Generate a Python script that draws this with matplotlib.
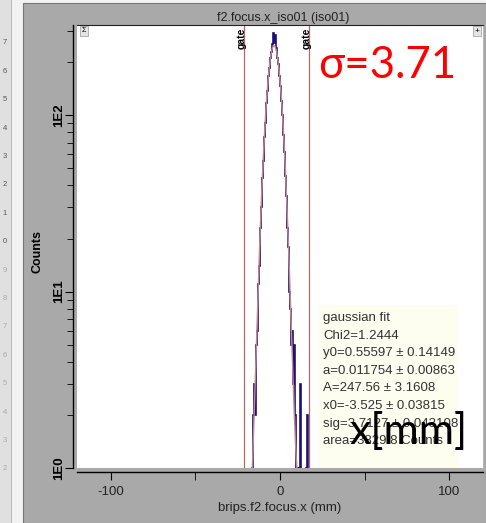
import numpy as np
import matplotlib
matplotlib.use('Agg')
import matplotlib.pyplot as plt
from matplotlib.patches import Rectangle
from matplotlib.transforms import blended_transform_factory

W, H = 486, 523

##  histogram data (bin width 0.6 mm, first bin starts at -17.4 mm)
bin_lo = -17.4
bin_w = 0.6
counts = [0, 1, 2, 3, 2, 5, 6, 11, 14, 23, 30, 44, 55, 75, 91, 118, 137, 166,
          185, 211, 228, 255, 292, 258, 285, 240, 212, 195, 168, 147, 120, 101,
          77, 62, 45, 35, 23, 18, 10, 8, 5, 6, 3, 5, 2, 1, 1, 0, 1, 3, 0, 0, 0,
          0, 0, 1, 2, 0]

##  gaussian fit parameters
fit_y0 = 0.55597
fit_a = 0.011754
fit_A = 247.56
fit_x0 = -3.525
fit_sig = 3.7127

gates = [-21.2, 17.0]

stats_lines = ['gaussian fit',
               'Chi2=1.2444',
               'y0=0.55597 \u00b1 0.14149',
               'a=0.011754 \u00b1 0.00863',
               'A=247.56 \u00b1 3.1608',
               'x0=-3.525 \u00b1 0.03815',
               'sig=3.7127 \u00b1 0.043108',
               'area=3829.8 Counts']

ytick_vals = [1, 10, 100]
ytick_labels = ['1E0', '1E1', '1E2']
xtick_vals = [-100, 0, 100]

plt.rcParams['font.family'] = ['Liberation Sans', 'DejaVu Sans']
plt.rcParams['axes.unicode_minus'] = False

def fx(px):
    return px / W

def fy(py):
    return 1 - py / H

fig = plt.figure(figsize=(W / 100, H / 100), dpi=100)
fig.patch.set_facecolor('#f2f2f2')

# left list strip + gray window panel (behind the axes)
fig.add_artist(Rectangle((0, 0), fx(11), 1, transform=fig.transFigure,
                         color='#e0e0e0', lw=0, zorder=-2))
fig.add_artist(Rectangle((fx(11), 0), fx(1), 1, transform=fig.transFigure,
                         color='#b8b8b8', lw=0, zorder=-2))
fig.add_artist(Rectangle((fx(23), 0), 1 - fx(23), fy(3), transform=fig.transFigure,
                         facecolor='#a9a9a9', edgecolor='#777777', lw=0.8, zorder=-2))
for i, d in enumerate(['7', '6', '5', '4', '3', '2', '1', '0']):
    fig.text(fx(5), fy(43 + 28.4 * i), d, fontsize=5.5, color='#555555',
             ha='center', va='center')
for i, d in enumerate(['9', '8', '7', '6', '5', '4', '3', '2']):
    fig.text(fx(5), fy(270 + 28.4 * i), d, fontsize=5.5, color='#aaaaaa',
             ha='center', va='center')

fig.text(fx(283), fy(18), 'f2.focus.x_iso01 (iso01)', fontsize=9,
         color='#222222', ha='center', va='center')

ax = fig.add_axes([fx(77), fy(468), fx(483 - 77), (468 - 25) / H])
ax.set_facecolor('white')

edges = bin_lo + bin_w * np.arange(len(counts) + 1)
shown = np.maximum(np.array(counts, dtype=float), 0.5)
ax.stairs(shown, edges, color='#1c1078', lw=1.2, baseline=0.5)

xf = np.linspace(gates[0], gates[1], 500)
yf = fit_y0 + fit_a * xf + fit_A * np.exp(-(xf - fit_x0) ** 2 / (2 * fit_sig ** 2))
ax.plot(xf, yf, color='#c48a8a', lw=1.0)

ax.set_yscale('log')
ax.set_xlim(-120, 120)
ax.set_ylim(1, 325)

for g in gates:
    ax.axvline(g, color='#b06a6a', lw=0.9)
    ax.text(g - 1.2, 315, 'gate', rotation=90, fontsize=7.5, fontweight='bold',
            ha='center', va='top')

ax.set_xticks(xtick_vals)
ax.set_xticks([-50, 50], minor=True)
ax.tick_params(axis='x', which='major', length=6, labelsize=9.5, pad=4,
               labelcolor='#222222')
ax.tick_params(axis='x', which='minor', length=6)
ax.set_yticks(ytick_vals)
ax.tick_params(axis='y', which='major', length=6, labelleft=False)
ax.tick_params(axis='y', which='minor', length=4)

# rotated y tick labels, centred on their ticks
ytrans = blended_transform_factory(fig.transFigure, ax.transData)
for v, lab in zip(ytick_vals, ytick_labels):
    ax.text(fx(59), v, lab, transform=ytrans, rotation=90, fontsize=9.5,
            fontweight='bold', ha='center', va='center', clip_on=False)

for s in ['left', 'bottom']:
    ax.spines[s].set_position(('outward', 3))
    ax.spines[s].set_linewidth(1.0)
ax.spines['top'].set_color('#222222')
ax.spines['right'].set_color('#bbbbbb')
ax.spines['right'].set_linewidth(0.6)

ax.set_xlabel('brips.f2.focus.x (mm)', fontsize=9.5, color='#222222', labelpad=3)
fig.text(fx(37), fy(252), 'Counts', rotation=90, fontsize=9, fontweight='bold',
         ha='center', va='center')

# small buttons
fig.text(fx(84), fy(31), '\u03a3', fontsize=5, ha='center', va='center',
         bbox=dict(boxstyle='square,pad=0.25', fc='#e4e4e4', ec='#999999', lw=0.5))
fig.text(fx(477), fy(31), '+', fontsize=6, ha='center', va='center',
         bbox=dict(boxstyle='square,pad=0.15', fc='#e4e4e4', ec='#999999', lw=0.5))

# fit info box
fig.add_artist(Rectangle((fx(318), fy(468)), fx(458 - 318), (468 - 305) / H,
                         transform=fig.transFigure, facecolor='#fdfdf0',
                         edgecolor='none', zorder=1))
for i, line in enumerate(stats_lines):
    fig.text(fx(323), fy(318 + 17.6 * i), line, fontsize=9.5, color='#333333',
             ha='left', va='center')

fig.text(fx(318), fy(66), '\u03c3=3.71', fontsize=31.5, color='#ff0000',
         family=['Lato', 'DejaVu Sans'], ha='left', va='center')
fig.text(fx(349), fy(432), 'x[mm]', fontsize=31, color='black',
         family=['Lato', 'DejaVu Sans'], ha='left', va='center')

plt.savefig('out.png', dpi=100)
